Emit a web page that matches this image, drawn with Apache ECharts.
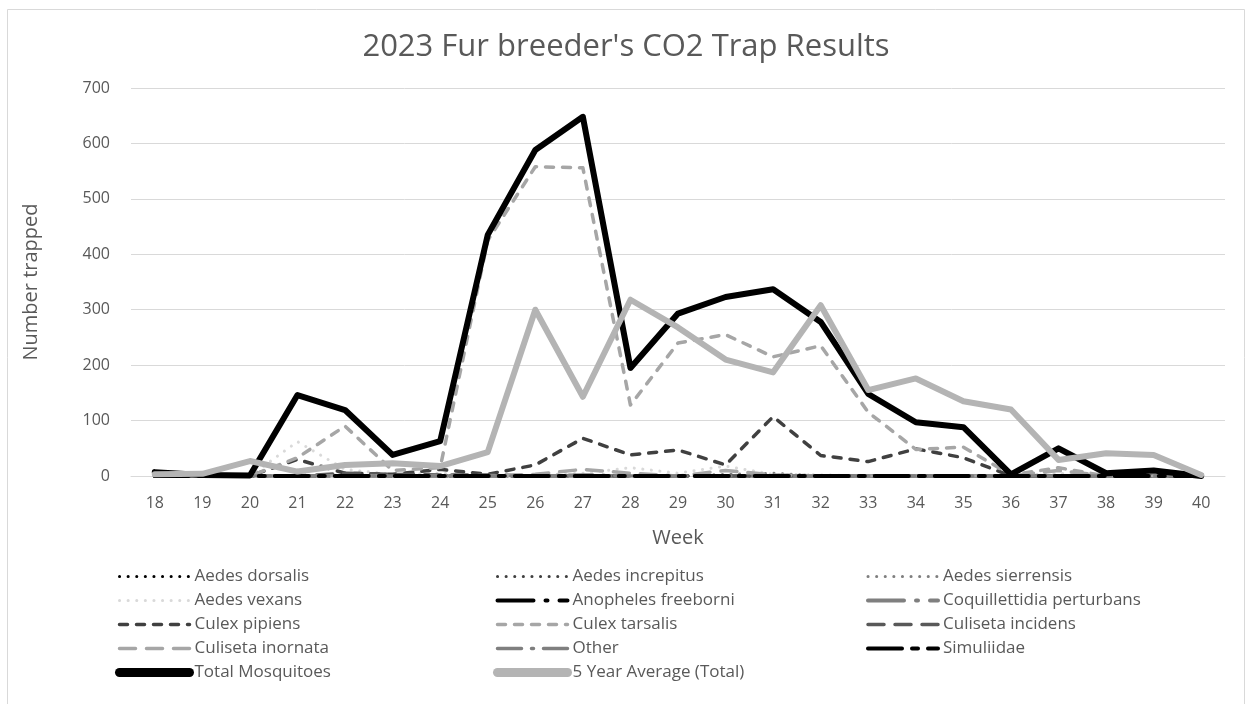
<!DOCTYPE html>
<html>
<head>
<meta charset="utf-8">
<title>2023 Fur breeder's CO2 Trap Results</title>
<script src="https://cdn.jsdelivr.net/npm/echarts@6/dist/echarts.min.js"></script>
<style>
  html, body { margin: 0; padding: 0; background: #fff; }
  #chart { width: 1252px; height: 704px; }
</style>
</head>
<body>
<div id="chart"></div>
<script>
// weeks 18 - 40
const weeks = ['18', '19', '20', '21', '22', '23', '24', '25', '26', '27', '28', '29',
    '30', '31', '32', '33', '34', '35', '36', '37', '38', '39', '40']

const aedesDorsalis      = [0, 0, 0, 0, 0, 0, 0, 0, 0, 0, 0, 0, 0, 0, 0, 0, 0, 0, 0, 0, 0, 0, 0]
const aedesIncrepitus    = [0, 0, 0, 0, 0, 0, 0, 0, 0, 0, 0, 0, 0, 0, 0, 0, 0, 0, 0, 0, 0, 0, 0]
const aedesSierrensis    = [0, 0, 0, 0, 0, 0, 0, 0, 0, 0, 0, 0, 3, 5, 0, 0, 0, 0, 0, 0, 0, 0, 0]
const aedesVexans        = [0, 0, 0, 62, 12, 3, 5, 0, 2, 5, 15, 5, 18, 3, 2, 0, 0, 0, 0, 5, 0, 0, 0]
const anophelesFreeborni = [0, 0, 0, 0, 0, 0, 0, 0, 0, 0, 0, 0, 0, 0, 0, 0, 0, 0, 0, 0, 0, 0, 0]
const coquillettidia     = [0, 0, 0, 0, 0, 0, 0, 0, 0, 0, 0, 0, 0, 0, 0, 0, 0, 0, 0, 0, 0, 0, 0]
const culexPipiens       = [0, 0, 0, 30, 5, 3, 12, 3, 20, 68, 38, 47, 20, 107, 37, 26, 49, 33, 0, 0, 0, 0, 0]
const culexTarsalis      = [0, 0, 0, 33, 90, 10, 15, 425, 558, 556, 128, 240, 255, 215, 235, 115, 48, 52, 2, 15, 0, 0, 0]
const culisetaIncidens   = [5, 0, 0, 0, 5, 3, 2, 2, 0, 0, 0, 0, 0, 0, 0, 0, 0, 0, 0, 0, 0, 0, 0]
const culisetaInornata   = [0, 0, 0, 0, 0, 0, 0, 0, 3, 12, 5, 0, 10, 2, 0, 0, 0, 0, 0, 10, 0, 0, 0]
const other              = [0, 0, 0, 0, 0, 0, 0, 0, 0, 2, 0, 0, 0, 0, 0, 0, 0, 0, 0, 0, 0, 0, 0]
const simuliidae         = [0, 0, 0, 0, 0, 0, 0, 0, 0, 0, 0, 0, 0, 0, 0, 0, 0, 0, 0, 0, 0, 0, 0]
const totalMosquitoes    = [7, 2, 1, 146, 119, 38, 63, 435, 588, 648, 195, 293, 323, 337, 278, 148, 97, 88, 3, 50, 5, 10, 0]
const fiveYearAverage    = [3, 4, 27, 8, 20, 23, 18, 43, 300, 143, 318, 268, 210, 187, 308, 155, 176, 135, 120, 29, 41, 38, 2]

const yTicks = { min: 0, max: 700, interval: 100 }

const font = "'Open Sans', sans-serif"
const grey = '#595959'

const dot = [0.1, 8.5]
const dash = [8, 9]
const longDash = [16, 11]

// name, data, color, width, dash pattern
const seriesDefs = [
    ['Aedes dorsalis', aedesDorsalis, '#000000', 3, dot],
    ['Aedes increpitus', aedesIncrepitus, '#404040', 3, dot],
    ['Aedes sierrensis', aedesSierrensis, '#7f7f7f', 3, dot],
    ['Aedes vexans', aedesVexans, '#d9d9d9', 3, dot],
    ['Anopheles freeborni', anophelesFreeborni, '#000000', 4, [36, 12, 2, 12]],
    ['Coquillettidia perturbans', coquillettidia, '#7f7f7f', 4, [36, 12, 2, 12]],
    ['Culex pipiens', culexPipiens, '#404040', 3.5, dash],
    ['Culex tarsalis', culexTarsalis, '#a6a6a6', 3.5, dash],
    ['Culiseta incidens', culisetaIncidens, '#595959', 3.5, longDash],
    ['Culiseta inornata', culisetaInornata, '#a6a6a6', 3.5, longDash],
    ['Other', other, '#7f7f7f', 3.5, [24, 10, 2, 10]],
    ['Simuliidae', simuliidae, '#000000', 4, [34, 10, 6, 10]],
    ['Total Mosquitoes', totalMosquitoes, '#000000', 6, 'solid'],
    ['5 Year Average (Total)', fiveYearAverage, '#b4b4b4', 6, 'solid'],
]

const series = seriesDefs.map(([name, data, color, width, type]) => ({
    name,
    type: 'line',
    data,
    symbol: 'none',
    color,
    lineStyle: { color, width, type, cap: 'round', join: 'round' },
    emphasis: { disabled: true },
}))

const legendBase = {
    orient: 'vertical',
    top: 568,
    padding: 0,
    itemWidth: 70,
    itemHeight: 16,
    itemGap: 7,
    selectedMode: false,
    itemStyle: { opacity: 0 },
    lineStyle: { width: 'inherit' },
    textStyle: { color: grey, fontSize: 17, fontFamily: font, lineHeight: 16 },
}

const thick = (name) => ({ name, lineStyle: { width: 9 } })

const option = {
    backgroundColor: '#ffffff',
    animation: false,
    title: {
        text: "2023 Fur breeder's CO2 Trap Results",
        left: 'center',
        top: 27,
        textStyle: { color: grey, fontSize: 31, fontFamily: font, fontWeight: 'normal' },
    },
    graphic: [{
        type: 'rect',
        shape: { x: 7.5, y: 9.5, width: 1237, height: 700 },
        style: { fill: 'none', stroke: '#d9d9d9', lineWidth: 1 },
        silent: true,
    }],
    legend: [
        { ...legendBase, left: 115, data: ['Aedes dorsalis', 'Aedes vexans', 'Culex pipiens', 'Culiseta inornata', thick('Total Mosquitoes')] },
        { ...legendBase, left: 493, data: ['Aedes increpitus', 'Anopheles freeborni', 'Culex tarsalis', 'Other', thick('5 Year Average (Total)')] },
        { ...legendBase, left: 866, data: ['Aedes sierrensis', 'Coquillettidia perturbans', 'Culiseta incidens', 'Simuliidae'] },
    ],
    grid: { left: 131, right: 27, top: 88, bottom: 228 },
    xAxis: {
        type: 'category',
        data: weeks,
        boundaryGap: true,
        name: 'Week',
        nameLocation: 'middle',
        nameGap: 52,
        nameTextStyle: { color: grey, fontSize: 20, fontFamily: font },
        axisLine: { lineStyle: { color: '#d9d9d9', width: 1 } },
        axisTick: { show: false },
        axisLabel: { color: grey, fontSize: 16, fontFamily: font, margin: 19 },
    },
    yAxis: {
        type: 'value',
        min: yTicks.min,
        max: yTicks.max,
        interval: yTicks.interval,
        name: 'Number trapped',
        nameLocation: 'middle',
        nameGap: 90,
        nameTextStyle: { color: grey, fontSize: 20, fontFamily: font },
        axisLine: { show: false },
        axisTick: { show: false },
        axisLabel: { color: grey, fontSize: 16, fontFamily: font, margin: 21 },
        splitLine: { lineStyle: { color: '#d9d9d9', width: 1 } },
    },
    series,
}

const chart = echarts.init(document.getElementById('chart'))
chart.setOption(option)
</script>
</body>
</html>
